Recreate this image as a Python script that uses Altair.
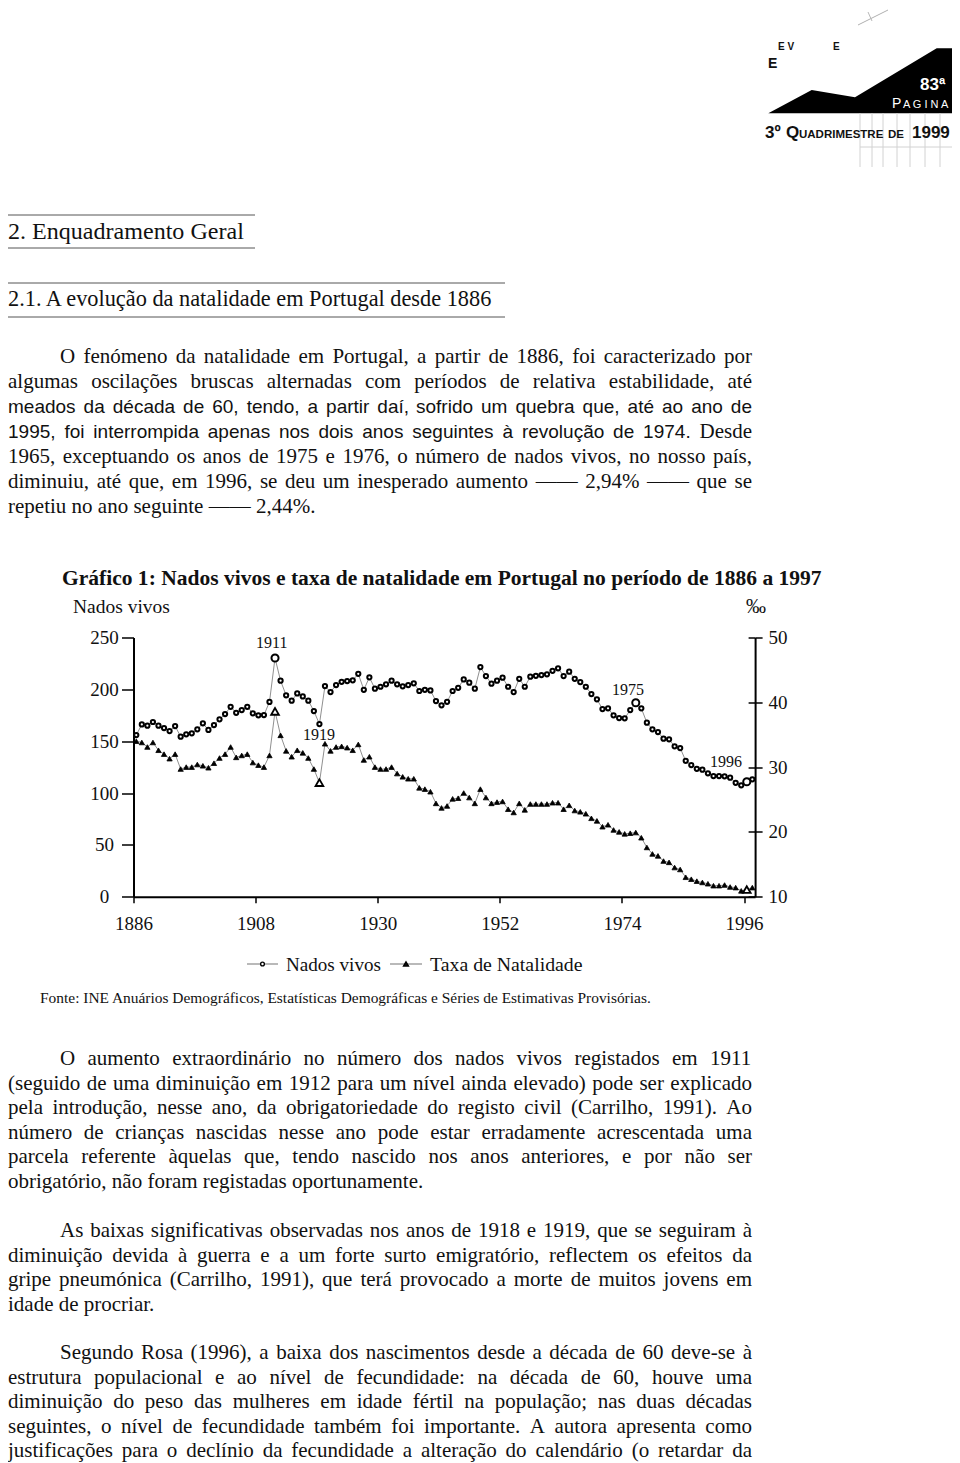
import unicodedata
import altair as alt
import pandas as pd

# ------------------------------------------------------------------ chart data
anos = list(range(1886, 1998))
# Nados vivos (milhares)
nados_vivos = [
    155.9, 166.2, 164.9, 168.5, 164.9, 162.7, 159.8, 164.6, 154.3, 156.6,
    157.6, 161.4, 167.2, 160.8, 165.6, 171.1, 176.2, 183.2, 177.4, 180.0,
    183.2, 176.9, 174.9, 175.2, 187.8, 230.2, 208.3, 194.2, 189.0, 196.1,
    193.2, 189.0, 179.1, 166.5, 203.2, 197.4, 204.1, 207.3, 208.0, 208.7,
    215.0, 199.6, 211.6, 200.6, 202.5, 204.8, 208.3, 204.8, 202.9, 204.1,
    205.8, 198.4, 199.6, 199.0, 188.7, 184.6, 188.0, 198.4, 201.5, 209.6,
    206.4, 200.6, 221.5, 212.8, 205.4, 208.3, 211.2, 202.5, 197.4, 210.2,
    202.5, 212.2, 213.1, 213.8, 214.5, 217.9, 220.3, 212.8, 217.0, 210.2,
    207.0, 202.5, 195.5, 190.4, 181.0, 181.7, 174.9, 172.3, 172.0, 180.0,
    187.1, 181.7, 167.8, 161.4, 158.8, 152.4, 151.8, 145.0, 143.4, 131.1,
    127.0, 123.4, 122.5, 119.0, 116.4, 116.4, 116.1, 114.8, 109.9, 107.4,
    110.9, 113.2,
]
# Taxa de natalidade (por mil)
taxa_natalidade = [
    34.0, 33.8, 33.1, 33.8, 32.6, 32.0, 31.3, 32.0, 29.7, 30.0,
    30.0, 30.4, 30.2, 29.9, 30.6, 31.4, 32.0, 33.1, 31.5, 31.8,
    32.0, 30.7, 30.3, 30.0, 31.8, 38.6, 34.9, 32.5, 31.6, 32.6,
    32.2, 31.4, 29.7, 27.6, 33.6, 32.5, 33.1, 33.2, 33.0, 32.6,
    33.5, 31.1, 31.6, 30.0, 29.7, 29.7, 30.0, 29.0, 28.5, 28.2,
    28.2, 26.8, 26.6, 26.2, 24.4, 23.7, 24.0, 25.1, 25.2, 26.0,
    25.3, 24.4, 26.6, 25.3, 24.4, 24.6, 24.7, 23.5, 23.0, 24.4,
    23.4, 24.3, 24.3, 24.3, 24.3, 24.5, 24.5, 23.5, 24.1, 23.3,
    23.1, 22.8, 22.1, 21.7, 20.8, 21.1, 20.3, 20.0, 19.7, 19.8,
    19.9, 19.1, 17.6, 16.6, 16.3, 15.5, 15.3, 14.5, 14.2, 13.0,
    12.7, 12.4, 12.2, 12.0, 11.7, 11.7, 11.8, 11.5, 11.4, 10.9,
    11.1, 11.4,
]
nados_destaque = [1911, 1976, 1996]
taxa_destaque = [1911, 1919, 1996]
anos_rotulo = ["1886", "1908", "1930", "1952", "1974", "1996"]
ticks_nados = [0, 50, 100, 150, 200, 250]
ticks_taxa = [10, 20, 30, 40, 50]
anotacoes = ["1911", "1919", "1975", "1996"]
legenda = ["Nados vivos", "Taxa de Natalidade"]

titulo = "Gráfico 1: Nados vivos e taxa de natalidade em Portugal no período de 1886 a 1997"
eixo_esq = "Nados vivos"
eixo_dir = "‰"
fonte = ("Fonte: INE Anuários Demográficos, Estatísticas Demográficas e Séries de "
         "Estimativas Provisórias.")

# ------------------------------------------------------------------ page text
cab_1 = "2. Enquadramento Geral"
cab_2 = "2.1. A evolução da natalidade em Portugal desde 1886"
par_1 = [
    [("O fenómeno da natalidade em Portugal, a partir de 1886, foi caracterizado por", "serif")],
    [("algumas oscilações bruscas alternadas com períodos de relativa estabilidade, até", "serif")],
    [("meados da década de 60, tendo, a partir daí, sofrido um quebra que, até ao ano de", "sans")],
    [("1995, foi interrompida apenas nos dois anos seguintes à revolução de 1974.", "sans"), ("Desde", "serif")],
    [("1965, exceptuando os anos de 1975 e 1976, o número de nados vivos, no nosso país,", "serif")],
    [("diminuiu, até que, em 1996, se deu um inesperado aumento —— 2,94% —— que se", "serif")],
    [("repetiu no ano seguinte —— 2,44%.", "serif")],
]
par_2 = [
    "O aumento extraordinário no número dos nados vivos registados em 1911",
    "(seguido de uma diminuição em 1912 para um nível ainda elevado) pode ser explicado",
    "pela introdução, nesse ano, da obrigatoriedade do registo civil (Carrilho, 1991). Ao",
    "número de crianças nascidas nesse ano pode estar erradamente acrescentada uma",
    "parcela referente àquelas que, tendo nascido nos anos anteriores, e por não ser",
    "obrigatório, não foram registadas oportunamente.",
]
par_3 = [
    "As baixas significativas observadas nos anos de 1918 e 1919, que se seguiram à",
    "diminuição devida à guerra e a um forte surto emigratório, reflectem os efeitos da",
    "gripe pneumónica (Carrilho, 1991), que terá provocado a morte de muitos jovens em",
    "idade de procriar.",
]
par_4 = [
    "Segundo Rosa (1996), a baixa dos nascimentos desde a década de 60 deve-se à",
    "estrutura populacional e ao nível de fecundidade: na década de 60, houve uma",
    "diminuição do peso das mulheres em idade fértil na população; nas duas décadas",
    "seguintes, o nível de fecundidade também foi importante. A autora apresenta como",
    "justificações para o declínio da fecundidade a alteração do calendário (o retardar da",
]
logo_textos = ["E V", "E", "E", "83ª", "P", "A G I N A", "3º", "Q", "UADRIMESTRE", "DE", "1999"]

# ------------------------------------------------------------------ layout
W, H = 621.6, 259.2          # plot area
X0, Y0 = 133.5, 637.5        # page position of plot area's top-left corner
SVG_W, SVG_H = 944, 1455
SERIF, SANS = "Liberation Serif", "Liberation Sans"
LEFT, RIGHT = 8, 752


def parse(spec):
    d = {}
    for tok in spec.split():
        k, v = tok.rsplit(":", 1)
        d[" " if k == "sp" else k] = int(v)
    return d


TIMES_R = parse(
    "sp:250 a:444 b:500 c:444 d:500 e:444 f:333 g:500 h:500 i:278 j:278 k:500 l:278 "
    "m:778 n:500 o:500 p:500 q:500 r:333 s:389 t:278 u:500 v:500 w:722 x:500 y:500 z:444 "
    "A:722 B:667 C:667 D:722 E:611 F:556 G:722 H:722 I:333 J:389 K:722 L:611 M:889 N:722 "
    "O:722 P:556 Q:722 R:667 S:556 T:611 U:722 V:722 W:944 X:722 Y:722 Z:611 "
    ",:250 .:250 ::278 ;:278 -:333 (:333 ):333 %:833 —:1000 ª:276 º:310 ‰:1000")
TIMES_B = parse(
    "sp:250 a:500 b:556 c:444 d:556 e:444 f:333 g:500 h:556 i:278 j:333 k:556 l:278 "
    "m:833 n:556 o:500 p:556 q:556 r:444 s:389 t:333 u:556 v:500 w:722 x:500 y:500 z:444 "
    "A:722 B:667 C:722 D:722 E:667 F:611 G:778 H:778 I:389 J:500 K:778 L:667 M:944 N:722 "
    "O:778 P:611 Q:778 R:722 S:556 T:667 U:722 V:722 W:1000 X:722 Y:722 Z:667 "
    ",:250 .:250 ::333")
ARIAL_R = parse(
    "sp:278 a:556 b:556 c:500 d:556 e:556 f:278 g:556 h:556 i:222 j:222 k:500 l:222 "
    "m:833 n:556 o:556 p:556 q:556 r:333 s:500 t:278 u:556 v:500 w:722 x:500 y:500 z:500 "
    "A:667 B:667 C:722 D:722 E:667 F:611 G:778 H:722 I:278 J:500 K:667 L:556 M:833 N:722 "
    "O:778 P:667 Q:778 R:722 S:667 T:611 U:722 V:667 W:944 X:667 Y:667 Z:611 "
    ",:278 .:278 ::278 ;:278 -:333 (:333 ):333 %:889")
for tbl, dw in ((TIMES_R, 500), (TIMES_B, 500), (ARIAL_R, 556)):
    for dg in "0123456789":
        tbl[dg] = dw


def measure(text, tbl):
    tot = 0
    for ch in text:
        w = tbl.get(ch)
        if w is None:
            w = tbl.get(unicodedata.normalize("NFD", ch)[0], 500)
        tot += w
    return tot / 1000.0


def fit(text, tbl, width):
    return width / measure(text, tbl)


recs = []


def put(t, x, y, s, fam=SERIF, wt="normal", c="#111111"):
    recs.append(dict(t=t, x=x - X0, y=y - Y0, s=s, c=c, fam=fam, wt=wt))


STY = {"serif": (SERIF, 21.0, TIMES_R), "sans": (SANS, 19.0, ARIAL_R)}


def paragraph(lines, y0, pitch, indent=52, justify_last=False):
    for i, line in enumerate(lines):
        segs = [(line, "serif")] if isinstance(line, str) else line
        words = [(w, st) for txt, st in segs for w in txt.split()]
        widths = [measure(w, STY[st][2]) * STY[st][1] for w, st in words]
        xl = LEFT + (indent if i == 0 else 0)
        last = (i == len(lines) - 1) and not justify_last
        if not last and len(words) > 1:
            gap = (RIGHT - xl - sum(widths)) / (len(words) - 1)
        else:
            gap = 0.25 * STY[words[0][1]][1]
        x = xl
        y = y0 + i * pitch
        for (w, st), wd in zip(words, widths):
            put(w, x, y, STY[st][1], fam=STY[st][0])
            x += wd + gap


# headings and paragraphs
put(cab_1, LEFT, 239, fit(cab_1, TIMES_R, 236))
put(cab_2, LEFT, 306, fit(cab_2, TIMES_R, 486))
paragraph(par_1, 363, 25)
paragraph(par_2, 1065, 24.5)
paragraph(par_3, 1237, 24.5)
paragraph(par_4, 1359, 24.5, justify_last=True)

# chart texts
put(titulo, 62, 585, fit(titulo, TIMES_B, 760), wt="bold")
put(eixo_esq, 73, 613, fit(eixo_esq, TIMES_R, 97))
put(eixo_dir, 746, 613, 20)
for txt, (ax, ay) in zip(anotacoes, [(256, 648), (303, 740), (612, 695), (710, 767)]):
    put(txt, ax, ay, 16)
put(legenda[0], 286, 971, fit(legenda[0], TIMES_R, 95))
put(legenda[1], 430, 971, fit(legenda[1], TIMES_R, 154))
put(fonte, 40, 1003, fit(fonte, TIMES_R, 612))

# header / logo texts
logo_pos = [
    (778, 50, 10, "bold", "#111111"), (833, 50, 10, "bold", "#111111"),
    (768, 68, 14, "bold", "#111111"), (920, 90, 17, "bold", "white"),
    (892, 108, 14, "normal", "white"), (903, 108, 11, "normal", "white"),
    (765, 138, 17, "bold", "#111111"), (786, 138, 17, "bold", "#111111"),
    (799, 138, 11.5, "bold", "#111111"), (888, 138, 11.5, "bold", "#111111"),
    (912, 138, 17, "bold", "#111111"),
]
for txt, (lx, ly, ls, lw, lc) in zip(logo_textos, logo_pos):
    put(txt, lx, ly, ls, fam=SANS, wt=lw, c=lc)

texts = pd.DataFrame(recs)

# decorative rules (heading lines, logo grid, legend lines)
rules = []


def rule(x1, y1, x2, y2, c="#555555", w=1.0):
    rules.append(dict(x=x1 - X0, y=y1 - Y0, x2=x2 - X0, y2=y2 - Y0, c=c, w=w))


rule(LEFT, 215, 255, 215)
rule(LEFT, 248, 255, 248)
rule(LEFT, 283, 505, 283)
rule(LEFT, 317, 505, 317)
for gx in [860, 872, 883, 897, 910, 925, 940]:
    rule(gx, 113, gx, 167, "#d2d2d2")
rule(860, 147, 952, 147, "#d2d2d2")
rule(957, 0, 957, 167, "#d0d0d0")
rule(858, 25, 888, 10, "#b0b0b0")
rule(868, 12, 872, 21, "#b8b8b8")
rule(247, 964, 278, 964, "#8a8a8a", 1.2)
rule(390, 964, 422, 964, "#8a8a8a", 1.2)
rules = pd.DataFrame(rules)

logo = pd.DataFrame(dict(
    x=[v - X0 for v in [768.3, 811.7, 855.0, 936.7, 955.0]],
    y=[v - Y0 for v in [113.3, 90.0, 97.3, 48.3, 48.3]],
    y2=[113.3 - Y0] * 5,
))

leg_pts = pd.DataFrame(dict(
    x=[262.5 - X0, 406 - X0], y=[964 - Y0, 964 - Y0],
    shape=["circle", "triangle-up"], fill=["white", "#111111"], size=[14, 24],
))

# ------------------------------------------------------------------ chart
df = pd.DataFrame(dict(ano=anos, nados=nados_vivos, taxa=taxa_natalidade))
df_n_small = df[~df.ano.isin(nados_destaque)]
df_n_big = df[df.ano.isin(nados_destaque)]
df_t_small = df[~df.ano.isin(taxa_destaque)]
df_t_big = df[df.ano.isin(taxa_destaque)]

xs = alt.Scale(domain=[1885.5, 1997.5], nice=False, zero=False)
ns = alt.Scale(domain=[0, 250], nice=False, zero=False)
rs = alt.Scale(domain=[10, 50], nice=False, zero=False)

ax_x = alt.Axis(values=[int(a) - 0.5 for a in anos_rotulo],
                labelExpr="format(datum.value + 0.5, 'd')",
                tickSize=6, labelPadding=12, labelFlush=False, labelOverlap=False,
                title=None, grid=False)
ax_n = alt.Axis(orient="left", values=ticks_nados, tickSize=12, labelAlign="center",
                labelPadding=17.5, labelFlush=False, labelOverlap=False, title=None, grid=False)
ax_t = alt.Axis(orient="right", values=ticks_taxa, tickSize=7, labelAlign="left",
                labelPadding=6, labelFlush=False, labelOverlap=False, title=None, grid=False)
ax_t_in = alt.Axis(orient="left", offset=-W, values=ticks_taxa, tickSize=7, labels=False,
                   domain=False, title=None, grid=False)

X = alt.X("ano:Q", scale=xs, axis=ax_x)
YN = alt.Y("nados:Q", scale=ns, axis=ax_n)
YT = alt.Y("taxa:Q", scale=rs, axis=ax_t)

births = alt.layer(
    alt.Chart(df).mark_line(color="#909090", strokeWidth=1).encode(x=X, y=YN),
    alt.Chart(df_n_small).mark_point(shape="circle", filled=True, fill="white", stroke="#000000",
                                     strokeWidth=2.0, size=18, opacity=1).encode(x=X, y=YN),
    alt.Chart(df_n_big).mark_point(shape="circle", filled=True, fill="white", stroke="#000000",
                                   strokeWidth=2.0, size=50, opacity=1).encode(x=X, y=YN),
)
rates = alt.layer(
    alt.Chart(df).mark_line(color="#909090", strokeWidth=1).encode(x=X, y=YT),
    alt.Chart(df_t_small).mark_point(shape="triangle-up", filled=True, fill="#000000",
                                     stroke="#000000", strokeWidth=0.8, size=28,
                                     opacity=1).encode(x=X, y=YT),
    alt.Chart(df_t_big).mark_point(shape="triangle-up", filled=True, fill="white", stroke="#000000",
                                   strokeWidth=1.8, size=60, opacity=1).encode(x=X, y=YT),
)
inner_ticks = alt.Chart(df).mark_point(opacity=0).encode(
    x=X, y=alt.Y("taxa:Q", scale=rs, axis=ax_t_in))

PX = lambda f="x": alt.X(f"{f}:Q", scale=None, axis=None)
PY = lambda f="y": alt.Y(f"{f}:Q", scale=None, axis=None)

logo_layer = alt.Chart(logo).mark_area(color="#000000", opacity=1).encode(
    x=PX(), y=PY(), y2=alt.Y2("y2:Q"))
rule_layer = alt.Chart(rules).mark_rule().encode(
    x=PX(), y=PY(), x2=alt.X2("x2:Q"), y2=alt.Y2("y2:Q"),
    color=alt.Color("c:N", scale=None), strokeWidth=alt.StrokeWidth("w:Q", scale=None))
leg_layer = alt.Chart(leg_pts).mark_point(filled=True, stroke="#000000", strokeWidth=1.4,
                                          opacity=1).encode(
    x=PX(), y=PY(), shape=alt.Shape("shape:N", scale=None),
    fill=alt.Fill("fill:N", scale=None), size=alt.Size("size:Q", scale=None))

text_layers = []
for (fam, wt), grp in texts.groupby(["fam", "wt"]):
    text_layers.append(
        alt.Chart(grp).mark_text(align="left", baseline="alphabetic", font=fam,
                                 fontWeight=wt).encode(
            x=PX(), y=PY(), text="t:N",
            size=alt.Size("s:Q", scale=None), color=alt.Color("c:N", scale=None)))

chart = alt.layer(
    logo_layer, rule_layer, births, rates, inner_ticks, leg_layer, *text_layers
).resolve_scale(y="independent").properties(
    width=W, height=H,
    autosize=alt.AutoSizeParams(type="none"),
    padding={"left": X0 - 8, "top": Y0 - 8,
             "right": SVG_W - (X0 - 8) - W, "bottom": SVG_H - (Y0 - 8) - H},
    background="white",
).configure_view(stroke=None).configure_axis(
    labelFont=SERIF, labelFontSize=19, labelColor="#111111",
    domainColor="#000000", tickColor="#000000", domainWidth=2, tickWidth=1.5,
)

chart.save("out.html", embed_options={"renderer": "svg", "actions": False})
